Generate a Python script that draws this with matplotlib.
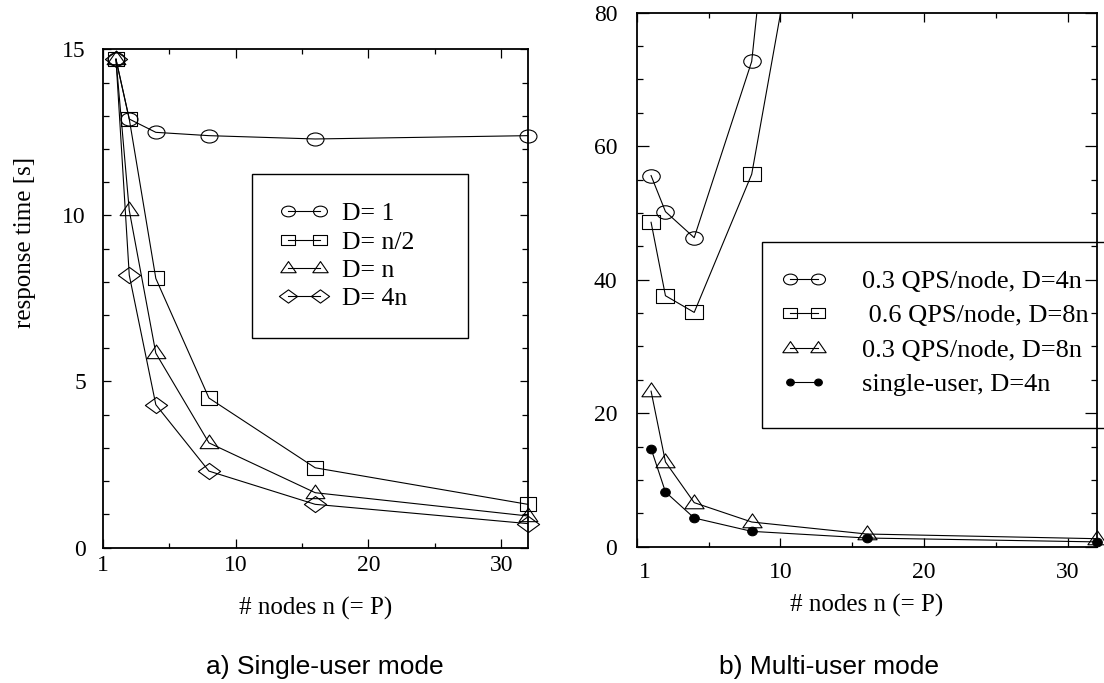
import matplotlib
matplotlib.use('Agg')
import matplotlib.pyplot as plt
import numpy as np
from matplotlib.path import Path
from matplotlib.patches import Rectangle
from matplotlib.ticker import MultipleLocator, FixedLocator, FixedFormatter
import matplotlib.transforms as mtransforms

# ---------------- data ----------------
nodes = [1, 2, 4, 8, 16, 32]
single_d1 = [14.7, 12.9, 12.5, 12.4, 12.3, 12.4]
single_dhalf = [14.7, 12.9, 8.1, 4.5, 2.4, 1.3]
single_dn = [14.7, 10.15, 5.85, 3.15, 1.65, 0.95]
single_d4n = [14.7, 8.2, 4.3, 2.3, 1.3, 0.72]
single_labels = ['D= 1', 'D= n/2', 'D= n', 'D= 4n']

nodes_hi = [1, 2, 4, 8, 16]
multi_q03_d4n = [55.6, 50.2, 46.3, 72.7, 235.0]
multi_q06_d8n = [48.6, 37.6, 35.1, 55.8, 152.0]
multi_q03_d8n = [23.3, 12.7, 6.6, 3.7, 1.9, 1.2]
multi_single_d4n = [14.7, 8.2, 4.3, 2.3, 1.3, 0.72]
multi_labels = ['0.3 QPS/node, D=4n', ' 0.6 QPS/node, D=8n',
                '0.3 QPS/node, D=8n', 'single-user, D=4n']

x_ticks = [0, 10, 20, 30]
x_ticklabels = ['1', '10', '20', '30']
left_yticks = [0, 5, 10, 15]
right_yticks = [0, 20, 40, 60, 80]

captions = ['a) Single-user mode', 'b) Multi-user mode']
xlabel = '# nodes n (= P)'
ylabel = 'response time [s]'

# ---------------- style ----------------
W, H = 1104, 683
SERIF = ['Liberation Serif', 'DejaVu Serif']
SANS = ['Liberation Sans', 'DejaVu Sans']
plt.rcParams['font.family'] = SERIF


def ellipse(sx):
    c = Path.unit_circle()
    return Path(c.vertices * np.array([sx, 1.0]), c.codes)


m_circ = ellipse(1.3)
m_sq = Path([(-1.3, -1), (1.3, -1), (1.3, 1), (-1.3, 1), (-1.3, -1)], closed=True)
m_tri = Path([(-1, -0.55), (1, -0.55), (0, 0.9), (-1, -0.55)], closed=True)
m_dia = Path([(-1.375, 0), (0, 1), (1.375, 0), (0, -1), (-1.375, 0)], closed=True)
m_dot = ellipse(1.12)

LW = 0.8
line_kw = dict(color='black', lw=LW, mec='black', mew=0.8)

fig = plt.figure(figsize=(W / 100, H / 100), dpi=100)


def px_axes(l, r, t, b):
    return fig.add_axes([l / W, 1 - b / H, (r - l) / W, (b - t) / H])


axL = px_axes(102.7, 527.7, 49.3, 547.5)
axR = px_axes(636.7, 1096.7, 12.7, 546.7)

# ---- left panel ----
axL.plot(nodes, single_d1, marker=m_circ, ms=12.2, mfc='none', clip_on=False,
         label=single_labels[0], **line_kw)
axL.plot(nodes, single_dhalf, marker=m_sq, ms=12.2, mfc='none', clip_on=False,
         label=single_labels[1], **line_kw)
axL.plot(nodes, single_dn, marker=m_tri, ms=13.5, mfc='none', clip_on=False,
         label=single_labels[2], **line_kw)
axL.plot(nodes, single_d4n, marker=m_dia, ms=16, mfc='none', clip_on=False,
         label=single_labels[3], **line_kw)
axL.set_xlim(0, 32)
axL.set_ylim(0, 15)

# ---- right panel ----
axR.plot(nodes_hi, multi_q03_d4n, marker=m_circ, ms=12.6, mfc='none',
         label=multi_labels[0], **line_kw)
axR.plot(nodes_hi, multi_q06_d8n, marker=m_sq, ms=12.6, mfc='none',
         label=multi_labels[1], **line_kw)
axR.plot(nodes, multi_q03_d8n, marker=m_tri, ms=13.8, mfc='none', clip_on=False,
         label=multi_labels[2], **line_kw)
axR.plot(nodes, multi_single_d4n, marker=m_dot, ms=6.9, mfc='black', clip_on=False,
         label=multi_labels[3], **line_kw)
axR.set_xlim(0, 32)
axR.set_ylim(0, 80)

P = 1 / 1.389  # px -> pt
for ax, yt, ymin, xpad, ypad in [(axL, left_yticks, 1, 5.4, 12), (axR, right_yticks, 5, 10.8, 14)]:
    ax.xaxis.set_major_locator(FixedLocator(x_ticks))
    ax.xaxis.set_major_formatter(FixedFormatter(x_ticklabels))
    ax.xaxis.set_minor_locator(FixedLocator([5, 15, 25]))
    ax.yaxis.set_major_locator(FixedLocator(yt))
    ax.yaxis.set_minor_locator(MultipleLocator(ymin))
    ax.tick_params(which='both', direction='in', top=True, right=True, width=0.9,
                   labelsize=17, colors='black')
    ax.tick_params(axis='x', which='major', length=9 * P, pad=xpad)
    ax.tick_params(axis='x', which='minor', length=5 * P)
    ax.tick_params(axis='y', which='major', pad=ypad)
    for s in ax.spines.values():
        s.set_linewidth(1.3)

axL.tick_params(axis='y', which='major', length=8 * P)
axL.tick_params(axis='y', which='minor', length=6.5 * P)
# right panel: long ticks every 10, short every 5
axR.yaxis.set_minor_locator(FixedLocator([v for v in range(0, 81, 5) if v % 10 != 0] +
                                         [v for v in range(10, 80, 20)]))
axR.tick_params(axis='y', which='major', length=12 * P)
axR.tick_params(axis='y', which='minor', length=6 * P)

# shift "1" label on right panel slightly to the right
lbl = axR.get_xticklabels()[0]
lbl.set_transform(lbl.get_transform() + mtransforms.ScaledTranslation(8 / 100, 0, fig.dpi_scale_trans))

# axis labels
axL.set_xlabel(xlabel, fontsize=18, va='center')
axL.xaxis.set_label_coords(0.5, (547.5 - 608) / 498)
axR.set_xlabel(xlabel, fontsize=18, va='center')
axR.xaxis.set_label_coords(0.5, (546.7 - 605) / 534)
axL.set_ylabel(ylabel, fontsize=18, va='center')
axL.yaxis.set_label_coords((25 - 102.7) / 425, (547.5 - 243) / 498)

# legends (frameless, with a box drawn as in the original)
legL = axL.legend(loc='upper left', frameon=False, fontsize=18.5, numpoints=2,
                  handlelength=1.83, handletextpad=0.55, labelspacing=0.2,
                  borderpad=0, borderaxespad=0, markerscale=0.82,
                  bbox_to_anchor=(280.6 / W, 1 - 202.5 / H), bbox_transform=fig.transFigure)
legR = axR.legend(loc='upper left', frameon=False, fontsize=19, numpoints=2,
                  handlelength=1.67, handletextpad=1.34, labelspacing=0.42,
                  borderpad=0, borderaxespad=0, markerscale=0.8,
                  bbox_to_anchor=(782.1 / W, 1 - 269.3 / H), bbox_transform=fig.transFigure)


def box(l, r, t, b):
    fig.patches.append(Rectangle((l / W, 1 - b / H), (r - l) / W, (b - t) / H,
                                 transform=fig.transFigure, fill=False,
                                 lw=1.0, ec='black', zorder=5))


box(252.3, 467.7, 174.3, 337.7)
box(761.7, 1115, 242.3, 427.7)

# captions
fig.text(325 / W, 1 - 667 / H, captions[0], ha='center', va='center',
         fontsize=19, family=SANS)
fig.text(829 / W, 1 - 667 / H, captions[1], ha='center', va='center',
         fontsize=19, family=SANS)

fig.savefig('out.png', dpi=100, facecolor='white')
